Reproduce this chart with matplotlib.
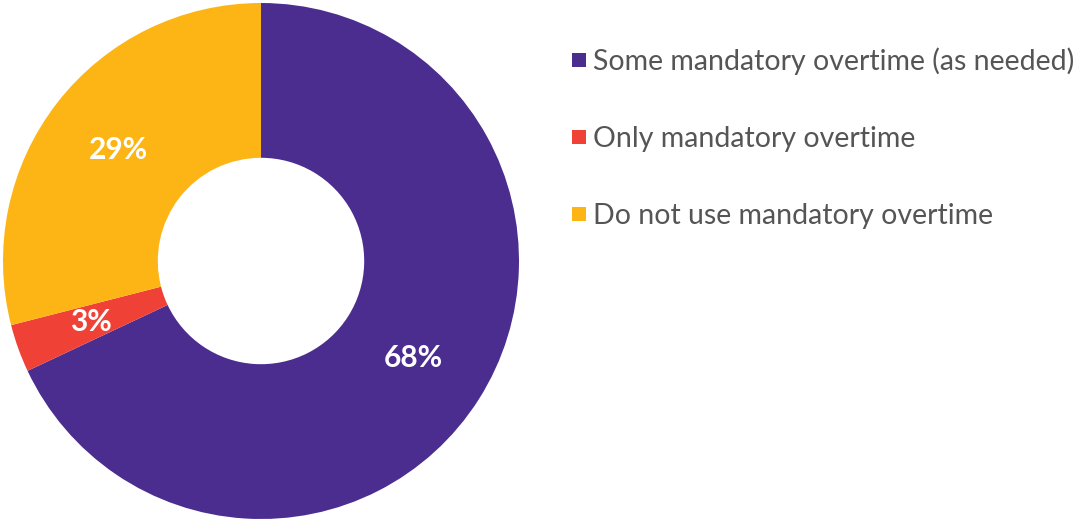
import matplotlib
matplotlib.use('Agg')
import matplotlib.pyplot as plt
from matplotlib.lines import Line2D

categories = ["Some mandatory overtime (as needed)",
              "Only mandatory overtime",
              "Do not use mandatory overtime"]
values = [68, 3, 29]
colors = ["#4B2D8F", "#EF4136", "#FDB515"]

plt.rcParams['font.family'] = ['Lato', 'DejaVu Sans']

fig = plt.figure(figsize=(10.78, 5.2), dpi=100)
ax = fig.add_axes([3/1078, 1/520, 516/1078, 516/520])

wedges, texts, autotexts = ax.pie(
    values, colors=colors, startangle=90, counterclock=False,
    radius=1, wedgeprops=dict(width=0.6, linewidth=0),
    autopct=lambda p: "{:.0f}%".format(p), pctdistance=0.7)
for t in autotexts:
    t.set_color("white")
    t.set_fontsize(21.5)
    t.set_fontweight("bold")
ax.set_xlim(-1, 1)
ax.set_ylim(-1, 1)
ax.axis('off')

handles = [Line2D([], [], marker='s', linestyle='none', markersize=10.5,
                  markerfacecolor=c, markeredgewidth=0) for c in colors]
leg = fig.legend(handles, categories, loc='upper left',
                 bbox_to_anchor=(570/1078, 1 - 47/520), frameon=False,
                 fontsize=20.5, labelspacing=1.8, handlelength=0.6,
                 handletextpad=0.2, borderpad=0, borderaxespad=0)
for t in leg.get_texts():
    t.set_color("#555555")

fig.savefig('out.png', dpi=100)
